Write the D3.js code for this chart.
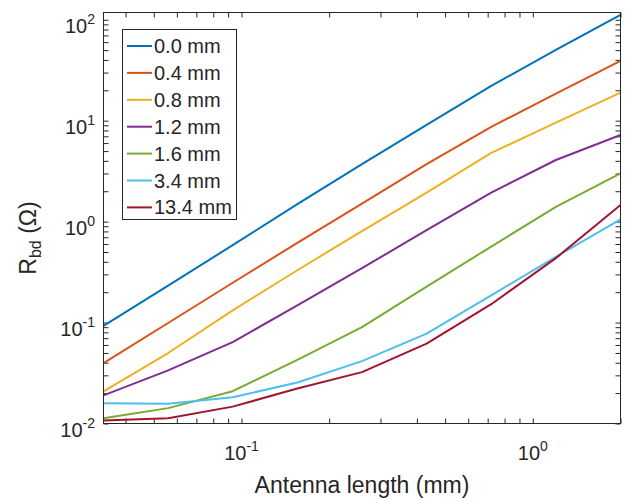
<!DOCTYPE html>
<html><head><meta charset="utf-8">
<script src="https://cdn.jsdelivr.net/npm/d3@7"></script>
<style>body{margin:0;background:#fff;} text{font-family:"Liberation Sans",Arial,sans-serif;fill:#262626;}</style>
</head><body>
<svg id="c" width="634" height="500"></svg>
<script>
const xValues = [0.0336, 0.056, 0.0933, 0.1555, 0.2592, 0.432, 0.72, 1.2, 2];
const seriesNames = ["0.0 mm","0.4 mm","0.8 mm","1.2 mm","1.6 mm","3.4 mm","13.4 mm"];
const s00 = [0.0929, 0.232, 0.585, 1.49, 3.72, 9.08, 22.1, 50.4, 112];
const s04 = [0.0397, 0.099, 0.248, 0.616, 1.51, 3.71, 8.69, 18.5, 39.2];
const s08 = [0.0208, 0.0499, 0.132, 0.330, 0.807, 1.94, 4.79, 9.57, 19.0];
const s12 = [0.0190, 0.0336, 0.0641, 0.148, 0.346, 0.823, 1.94, 4.08, 7.22];
const s16 = [0.0113, 0.0142, 0.0209, 0.0426, 0.0903, 0.227, 0.566, 1.40, 3.01];
const s34 = [0.0159, 0.0157, 0.0182, 0.0255, 0.0415, 0.0777, 0.186, 0.448, 1.05];
const s134 = [0.0107, 0.0113, 0.0147, 0.0222, 0.0323, 0.0618, 0.152, 0.435, 1.46];
const xMajor = [0.1, 1];
const xMajorExp = ["-1", "0"];
const yMajor = [0.01, 0.1, 1, 10, 100];
const yMajorExp = ["-2", "-1", "0", "1", "2"];
const colors = ["#0072BD","#D95319","#EDB120","#7E2F8E","#77AC30","#4DBEEE","#A2142F"];

const series = [s00, s04, s08, s12, s16, s34, s134];
const svg = d3.select("#c");
const L = 103.5, R = 620.5, T = 12.5, B = 423.5;
const x = d3.scaleLog().domain([0.0336, 2]).range([L, R]);
const y = d3.scaleLog().domain([0.01, 118]).range([B, T]);

// ticks
const xTicks = [];
for (const d of [0.01, 0.1, 1]) for (let k = 1; k <= 9; k++) { const v = +(k*d).toPrecision(3); if (v >= 0.0336 && v <= 2) xTicks.push(v); }
const yTicks = [];
for (const d of [0.01, 0.1, 1, 10, 100]) for (let k = 1; k <= 9; k++) { const v = +(k*d).toPrecision(3); if (v >= 0.01 && v <= 118) yTicks.push(v); }

function styleAxis(g){ g.select(".domain").remove(); g.selectAll("line").attr("stroke","#262626").attr("stroke-width",1); g.selectAll("text").remove(); }
svg.append("g").attr("transform",`translate(0,${B})`).call(d3.axisBottom(x).tickValues(xTicks).tickSize(-5).tickFormat("")).call(styleAxis);
svg.append("g").attr("transform",`translate(0,${T})`).call(d3.axisTop(x).tickValues(xTicks).tickSize(-5).tickFormat("")).call(styleAxis);
svg.append("g").attr("transform",`translate(${L},0)`).call(d3.axisLeft(y).tickValues(yTicks).tickSize(-5).tickFormat("")).call(styleAxis);
svg.append("g").attr("transform",`translate(${R},0)`).call(d3.axisRight(y).tickValues(yTicks).tickSize(-5).tickFormat("")).call(styleAxis);

// lines
const line = d3.line().x((d,i)=>x(xValues[i])).y(d=>y(d));
const plot = svg.append("g");
series.forEach((s,i)=>{
  plot.append("path").attr("d", line(s)).attr("fill","none").attr("stroke",colors[i]).attr("stroke-width",2).attr("stroke-linejoin","round");
});

// box
svg.append("rect").attr("x",L).attr("y",T).attr("width",R-L).attr("height",B-T).attr("fill","none").attr("stroke","#262626").attr("stroke-width",1);

// tick labels
xMajor.forEach((v,i)=>{
  const t = svg.append("text").attr("x", x(v)).attr("y", 460).attr("text-anchor","middle").style("font-size","20px");
  t.append("tspan").text("10");
  t.append("tspan").attr("dy",-9).style("font-size","14px").text(xMajorExp[i]);
});
yMajor.forEach((v,i)=>{
  const t = svg.append("text").attr("x", 95).attr("y", y(v)+13).attr("text-anchor","end").style("font-size","20px");
  t.append("tspan").text("10");
  t.append("tspan").attr("dy",-9).style("font-size","14px").text(yMajorExp[i]);
});

// axis titles
svg.append("text").attr("x",(L+R)/2).attr("y",493).attr("text-anchor","middle").style("font-size","23px").text("Antenna length (mm)");
const yl = svg.append("text").attr("transform",`translate(36,238) rotate(-90)`).attr("text-anchor","middle").style("font-size","23px");
yl.append("tspan").text("R");
yl.append("tspan").attr("dy",5).style("font-size","16px").text("bd");
yl.append("tspan").attr("dy",-5).text(" (Ω)");

// legend
const lg = svg.append("g");
lg.append("rect").attr("x",122.5).attr("y",29.5).attr("width",114).attr("height",190).attr("fill","#fff").attr("stroke","#262626").attr("stroke-width",1);
seriesNames.forEach((n,i)=>{
  const cy = 46 + i*26.9;
  lg.append("line").attr("x1",127).attr("x2",152).attr("y1",cy).attr("y2",cy).attr("stroke",colors[i]).attr("stroke-width",2);
  lg.append("text").attr("x",154).attr("y",cy+7).style("font-size","20px").text(n);
});
</script>
</body></html>
